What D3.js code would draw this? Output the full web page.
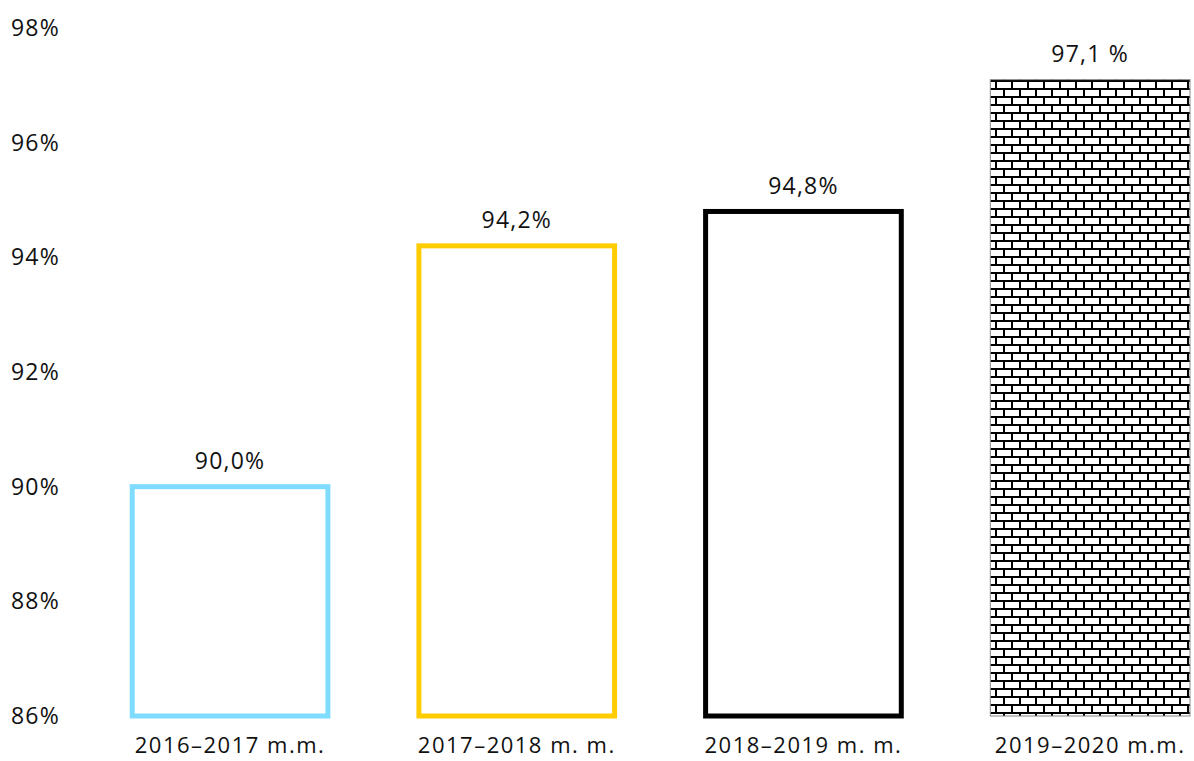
<!DOCTYPE html>
<html>
<head>
<meta charset="utf-8">
<script src="https://cdn.jsdelivr.net/npm/d3@7"></script>
<style>
body { margin: 0; background: #fff; }
text { font-family: "Century Gothic", "Open Sans", Lato, "Noto Sans", sans-serif; fill: #111; letter-spacing: 1.2px; }
</style>
</head>
<body>
<svg id="chart" width="1194" height="761"></svg>
<script>
// chart values
var categories = ["2016–2017 m.m.", "2017–2018 m. m.", "2018–2019 m. m.", "2019–2020 m.m."];
var values = [90.0, 94.2, 94.8, 97.1];
var value_labels = ["90,0%", "94,2%", "94,8%", "97,1 %"];
var y_ticks = [86, 88, 90, 92, 94, 96, 98];

var svg = d3.select("#chart");

var y = d3.scaleLinear().domain([86, 98]).range([716, 28]);
var x = d3.scaleBand().domain(categories)
	.range([86.7, 1233.5])
	.paddingInner(0.3)
	.paddingOuter(0.15);

// brick pattern for last bar
var defs = svg.append("defs");
var pat = defs.append("pattern")
	.attr("id", "brick")
	.attr("patternUnits", "userSpaceOnUse")
	.attr("width", 16)
	.attr("height", 16)
	.attr("x", 0)
	.attr("y", 80);
pat.append("rect").attr("width", 16).attr("height", 16).attr("fill", "#fff");
pat.append("rect").attr("x", 0).attr("y", 0).attr("width", 16).attr("height", 2).attr("fill", "#000");
pat.append("rect").attr("x", 0).attr("y", 8).attr("width", 16).attr("height", 2).attr("fill", "#000");
pat.append("rect").attr("x", 3).attr("y", 2).attr("width", 2).attr("height", 6).attr("fill", "#000");
pat.append("rect").attr("x", 11).attr("y", 10).attr("width", 2).attr("height", 6).attr("fill", "#000");

// y axis labels
svg.append("g")
	.selectAll("text")
	.data(y_ticks)
	.join("text")
	.attr("x", 11)
	.attr("y", function(d) { return y(d); })
	.attr("dy", "0.35em")
	.style("font-size", "23px")
	.text(function(d) { return d + "%"; });

var strokes = ["#80dcff", "#ffcc00", "#000000", "#888888"];
var widths = [5, 5, 5, 1];

svg.append("g")
	.selectAll("rect")
	.data(values)
	.join("rect")
	.attr("x", function(d, i) { return x(categories[i]) + widths[i] / 2; })
	.attr("y", function(d) { return y(d); })
	.attr("width", function(d, i) { return x.bandwidth() - widths[i]; })
	.attr("height", function(d) { return y(86) - y(d); })
	.attr("fill", function(d, i) { return i == 3 ? "url(#brick)" : "none"; })
	.attr("stroke", function(d, i) { return strokes[i]; })
	.attr("stroke-width", function(d, i) { return widths[i]; });

// value labels
svg.append("g")
	.selectAll("text")
	.data(values)
	.join("text")
	.attr("x", function(d, i) { return x(categories[i]) + x.bandwidth() / 2; })
	.attr("y", function(d) { return y(d) - 26; })
	.attr("dy", "0.35em")
	.attr("text-anchor", "middle")
	.style("font-size", "23px")
	.text(function(d, i) { return value_labels[i]; });

// category labels
svg.append("g")
	.selectAll("text")
	.data(categories)
	.join("text")
	.attr("x", function(d) { return x(d) + x.bandwidth() / 2; })
	.attr("y", 745)
	.attr("dy", "0.35em")
	.attr("text-anchor", "middle")
	.style("font-size", "22px")
	.style("letter-spacing", "1.5px")
	.text(function(d) { return d; });
</script>
</body>
</html>
